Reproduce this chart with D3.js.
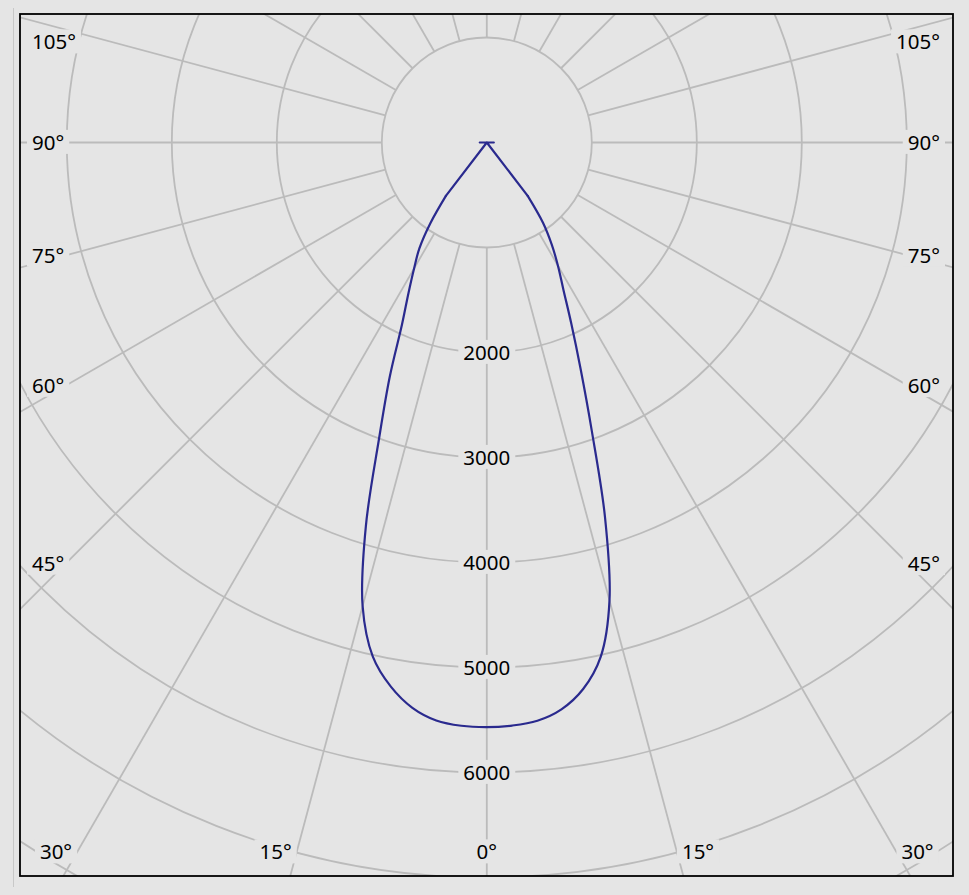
<!DOCTYPE html>
<html><head><meta charset="utf-8">
<script src="https://cdn.jsdelivr.net/npm/d3@7"></script>
<style>
html,body{margin:0;padding:0;background:#e5e5e5;}
svg{display:block;}
text{font-family:"Noto Sans","DejaVu Sans",sans-serif;font-size:20.5px;fill:#000;}
</style></head><body>
<svg id="chart" width="969" height="895"></svg>
<script>
// Measurement angles (gamma, degrees from nadir)
const gammaDeg = [0,2.5,5,7.5,10,12.5,15,17.5,20,22.5,25,27.5,30,32.5,35,37.5,40,42.5,45,47.5,50,52.5,55,57.5,60,62.5,65,67.5,70,72.5,75,77.5,80,82.5,85,87.5,90];
// Luminous intensity (cd), C0 plane (right half)
const intensityC0 = [5565,5558,5528,5445,5285,5015,4515,3745,2925,2335,1905,1580,1355,1150,935,640,0,0,0,0,0,0,0,0,0,0,0,0,0,0,0,0,0,0,0,0,67];
// Luminous intensity (cd), C180 plane (left half)
const intensityC180 = [5568,5560,5525,5430,5262,5015,4570,3830,3000,2415,1910,1615,1385,1195,935,640,0,0,0,0,0,0,0,0,0,0,0,0,0,0,0,0,0,0,0,0,67];
// Grid
const gridCircles = [1000,2000,3000,4000,5000,6000,7000,8000,9000,10000];
const radiusLabels = [2000,3000,4000,5000,6000];
const gridAnglesDeg = [0,15,30,45,60,75,90,105,120,135,150,165,180,195,210,225,240,255,270,285,300,315,330,345];
const angleLabelsDeg = [0,15,30,45,60,75,90,105];

const svg = d3.select("#chart");
const W = 969, H = 895;
const box = {x0:20, y0:14, x1:953, y1:876};
const cx = 486.8, cy = 142.5;
const bg = "#e5e5e5", gridColor = "#bbbbbb";

const r = d3.scaleLinear().domain([0,1000]).range([0,105]);
const rad = d => d*Math.PI/180;

svg.append("rect").attr("width",W).attr("height",H).attr("fill",bg);
svg.append("line").attr("x1",13.5).attr("x2",13.5).attr("y1",8).attr("y2",887)
  .attr("stroke","#c8c8c8").attr("stroke-width",1);

svg.append("clipPath").attr("id","clip").append("rect")
  .attr("x",box.x0).attr("y",box.y0).attr("width",box.x1-box.x0).attr("height",box.y1-box.y0);

const plot = svg.append("g").attr("clip-path","url(#clip)");
const g = plot.append("g").attr("transform",`translate(${cx},${cy})`);

// circles
g.selectAll("circle.grid").data(gridCircles).join("circle")
  .attr("class","grid").attr("r",d=>r(d)).attr("fill","none")
  .attr("stroke",gridColor).attr("stroke-width",1.8);

// radial lines (angle from downward direction)
g.selectAll("line.spoke").data(gridAnglesDeg).join("line")
  .attr("class","spoke")
  .attr("x1",d=>r(1000)*Math.sin(rad(d))).attr("y1",d=>r(1000)*Math.cos(rad(d)))
  .attr("x2",d=>r(14000)*Math.sin(rad(d))).attr("y2",d=>r(14000)*Math.cos(rad(d)))
  .attr("stroke",gridColor).attr("stroke-width",1.8);

function labelWithBg(parent, x, y, txt, anchor){
  const lg = parent.append("g");
  const t = lg.append("text").attr("x",x).attr("y",y).attr("dy","0.36em")
    .attr("text-anchor",anchor).text(txt);
  const bb = t.node().getBBox();
  lg.insert("rect","text").attr("x",bb.x-5).attr("y",bb.y+2).attr("width",bb.width+10)
    .attr("height",bb.height-4).attr("fill",bg);
}

const labels = plot.append("g");
// radius labels along the 0° spoke
radiusLabels.forEach(v => labelWithBg(labels, cx, cy + r(v), String(v), "middle"));

// angle labels
const inner = {left:66, right:908, bottom:852, top:42};
angleLabelsDeg.forEach(a => {
  [-1,1].forEach(s => {
    if (a===0 && s===1) return;
    const dx = s*Math.sin(rad(a)), dy = Math.cos(rad(a));
    const tSide = Math.abs(dx) > 1e-9 ? (s<0 ? (cx-inner.left) : (inner.right-cx))/Math.abs(dx) : Infinity;
    const tBot = dy > 1e-9 ? (inner.bottom-cy)/dy : Infinity;
    const txt = a + "°";
    if (a===0) { labelWithBg(labels, cx, inner.bottom, txt, "middle"); return; }
    if (tBot <= tSide) {
      const px = cx + dx*tBot;
      labelWithBg(labels, px + s*5, inner.bottom, txt, s<0 ? "end" : "start");
    } else {
      let py = cy + dy*tSide;
      py = Math.max(inner.top, py);
      labelWithBg(labels, s<0 ? 32 : 940, py, txt, s<0 ? "start" : "end");
    }
  });
});

// intensity curve: left half (C180) from 90° down to 0°, then right half (C0) 0° to 90°
const pts = [];
for (let i = gammaDeg.length-1; i >= 0; i--) pts.push({g: gammaDeg[i], a: Math.PI + rad(gammaDeg[i]), v: intensityC180[i]});
for (let i = 1; i < gammaDeg.length; i++) pts.push({g: gammaDeg[i], a: Math.PI - rad(gammaDeg[i]), v: intensityC0[i]});
const cut = 37.5;
const iL = pts.findIndex(d => d.g <= cut);
const iR = pts.length - 1 - [...pts].reverse().findIndex(d => d.g <= cut);
const body = pts.slice(iL, iR+1), tailL = pts.slice(0, iL+1), tailR = pts.slice(iR);
const smooth = d3.lineRadial().angle(d=>d.a).radius(d=>r(d.v)).curve(d3.curveCatmullRom.alpha(0.5));
const straight = d3.lineRadial().angle(d=>d.a).radius(d=>r(d.v)).curve(d3.curveLinear);
const curveStyle = sel => sel.attr("fill","none").attr("stroke","#2a2a8e")
  .attr("stroke-width",2.2).attr("stroke-linejoin","round").attr("stroke-linecap","round");
g.append("path").attr("d", smooth(body)).call(curveStyle);
g.append("path").attr("d", straight(tailL)).call(curveStyle);
g.append("path").attr("d", straight(tailR)).call(curveStyle);

// frame
svg.append("rect").attr("x",box.x0).attr("y",box.y0).attr("width",box.x1-box.x0).attr("height",box.y1-box.y0)
  .attr("fill","none").attr("stroke","#000").attr("stroke-width",1.8);
</script>
</body></html>
